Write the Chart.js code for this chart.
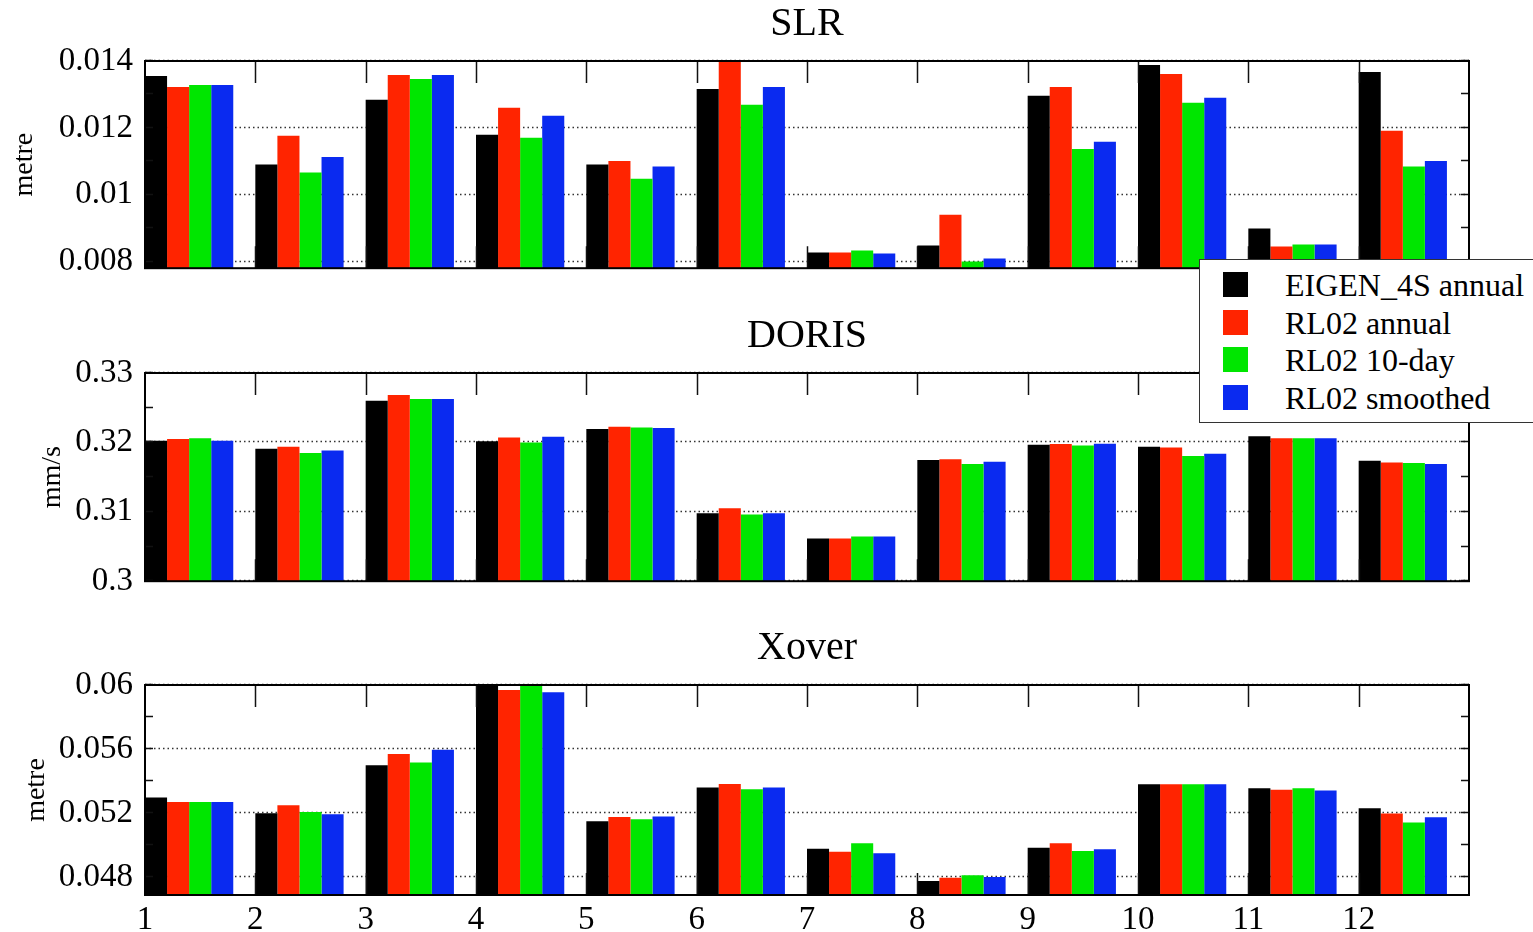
<!DOCTYPE html>
<html>
<head>
<meta charset="utf-8">
<script src="https://cdn.jsdelivr.net/npm/chart.js@4.4.1/dist/chart.umd.min.js"></script>
<style>
  body { margin: 0; background: #fff; overflow: hidden; width: 1533px; height: 932px; position: relative; }
  canvas { position: absolute; left: 0; }
  #legend { position: absolute; left: 1199px; top: 259px; width: 360px; height: 162px; border: 1.5px solid #333; background: #fff; z-index: 5; font-family: 'Liberation Serif', serif; font-size: 32px; color: #000; }
  .row { position: absolute; left: 0; height: 38px; line-height: 38px; white-space: nowrap; }
  .sw { position: absolute; left: 23px; top: 6px; width: 25px; height: 25px; }
  .lbl { position: absolute; left: 85px; top: 0; }
</style>
</head>
<body>
<canvas id="slr" width="1533" height="300" style="top:0px"></canvas>
<canvas id="doris" width="1533" height="301" style="top:312px"></canvas>
<canvas id="xover" width="1533" height="308" style="top:624px"></canvas>
<div id="legend"></div>
<script>
const months = [1, 2, 3, 4, 5, 6, 7, 8, 9, 10, 11, 12];
const seriesNames = ['EIGEN_4S annual', 'RL02 annual', 'RL02 10-day', 'RL02 smoothed'];
const seriesColors = ['#000000', '#ff2400', '#00e600', '#0a2af0'];

// SLR (metre)
const slrEigen    = [0.01355, 0.0109, 0.01284, 0.01179, 0.0109, 0.01316, 0.00827, 0.00848, 0.01296, 0.01388, 0.00899, 0.01367];
const slrAnnual   = [0.01322, 0.01176, 0.01358, 0.0126, 0.01101, 0.01398, 0.00827, 0.0094, 0.01322, 0.01361, 0.00845, 0.01191];
const slrTenDay   = [0.01328, 0.01066, 0.01346, 0.0117, 0.01048, 0.01269, 0.00833, 0.008, 0.01137, 0.01275, 0.00851, 0.01084];
const slrSmoothed = [0.01328, 0.01113, 0.01358, 0.01236, 0.01084, 0.01322, 0.00824, 0.00809, 0.01158, 0.0129, 0.00851, 0.01101];
const slrTicks = [0.008, 0.01, 0.012, 0.014];
const slrMinor = [0.009, 0.011, 0.013];

// DORIS (mm/s)
const dorisEigen    = [0.32024, 0.31909, 0.326, 0.32015, 0.32193, 0.30978, 0.30614, 0.31747, 0.31967, 0.31938, 0.32087, 0.31737];
const dorisAnnual   = [0.32049, 0.31938, 0.32682, 0.32072, 0.32226, 0.3105, 0.30614, 0.31756, 0.31977, 0.31928, 0.32058, 0.31712];
const dorisTenDay   = [0.32058, 0.31847, 0.32624, 0.32, 0.32216, 0.3096, 0.30643, 0.31689, 0.31957, 0.31804, 0.32058, 0.31703];
const dorisSmoothed = [0.32024, 0.31885, 0.32624, 0.32082, 0.32207, 0.30978, 0.30643, 0.31722, 0.31981, 0.31837, 0.32058, 0.31689];
const dorisTicks = [0.3, 0.31, 0.32, 0.33];
const dorisMinor = [0.305, 0.315, 0.325];

// Xover (metre)
const xoverEigen    = [0.05298, 0.052, 0.055, 0.05999, 0.0515, 0.0536, 0.04979, 0.04777, 0.04985, 0.05381, 0.05356, 0.05231];
const xoverAnnual   = [0.0527, 0.0525, 0.05569, 0.05969, 0.05177, 0.05383, 0.0496, 0.04798, 0.05013, 0.05381, 0.05346, 0.05198];
const xoverTenDay   = [0.0527, 0.05208, 0.05517, 0.05996, 0.05163, 0.0535, 0.05013, 0.04813, 0.04965, 0.05381, 0.05356, 0.05142];
const xoverSmoothed = [0.0527, 0.05194, 0.05596, 0.05954, 0.05179, 0.0536, 0.0495, 0.04802, 0.04975, 0.05381, 0.05342, 0.05175];
const xoverTicks = [0.048, 0.052, 0.056, 0.06];
const xoverMinor = [0.05, 0.054, 0.058];

Chart.defaults.font.family = "'Liberation Serif', serif";
Chart.defaults.color = '#000';

// dotted grid under the bars, box + inward ticks on top of them
const framePlugin = {
  id: 'frame',
  beforeDatasetsDraw(chart, args, opts) {
    const { ctx, chartArea: a, scales: { y } } = chart;
    ctx.save();
    ctx.strokeStyle = '#333';
    ctx.lineWidth = 1.5;
    ctx.setLineDash([1.5, 3]);
    opts.major.forEach(v => {
      const py = Math.round(y.getPixelForValue(v)) - 0.5;
      ctx.beginPath();
      ctx.moveTo(a.left, py);
      ctx.lineTo(a.right, py);
      ctx.stroke();
    });
    ctx.restore();
  },
  afterDatasetsDraw(chart, args, opts) {
    const { ctx, chartArea: a, scales: { x, y } } = chart;
    ctx.save();
    ctx.strokeStyle = '#111';
    ctx.lineWidth = 1.5;
    ctx.beginPath();
    months.forEach(m => {
      if (m === 1) return;
      const px = Math.round(x.getPixelForValue(m)) + 0.5;
      ctx.moveTo(px, a.top);
      ctx.lineTo(px, a.top + 22);
      ctx.moveTo(px, a.bottom);
      ctx.lineTo(px, a.bottom - 22);
    });
    opts.major.concat(opts.minor).forEach(v => {
      const py = Math.round(y.getPixelForValue(v)) - 0.5;
      ctx.moveTo(a.left, py);
      ctx.lineTo(a.left + 8, py);
      ctx.moveTo(a.right, py);
      ctx.lineTo(a.right - 8, py);
    });
    ctx.stroke();
    ctx.lineWidth = 2;
    ctx.strokeStyle = '#000';
    ctx.strokeRect(a.left, a.top, a.right - a.left, a.bottom - a.top);
    ctx.restore();
  }
};

function makePanel(id, title, unit, unitPad, yMin, yMax, ticks, minor, series, showX, xHeight) {
  const datasets = series.map((vals, s) => ({
    label: seriesNames[s],
    // group starts at the month tick and fills 80% of the month
    data: vals.map((v, i) => ({ x: months[i] + 0.4, y: v })),
    backgroundColor: seriesColors[s],
    borderWidth: 0,
    barPercentage: 1.0,
    categoryPercentage: 0.8
  }));
  return new Chart(document.getElementById(id), {
    type: 'bar',
    data: { datasets: datasets },
    plugins: [framePlugin],
    options: {
      responsive: false,
      animation: false,
      devicePixelRatio: 1,
      layout: { padding: { left: 0, right: 64, top: 0, bottom: 0 } },
      plugins: {
        legend: { display: false },
        tooltip: { enabled: false },
        title: {
          display: true,
          text: title,
          fullSize: false,
          color: '#000',
          font: { size: 40, weight: 'normal' },
          padding: { top: 0, bottom: 13 }
        },
        frame: { major: ticks, minor: minor }
      },
      scales: {
        x: {
          type: 'linear',
          min: 1,
          max: 13,
          offset: false,
          grid: { display: false, drawTicks: false, offset: false },
          border: { display: false },
          afterBuildTicks: sc => { sc.ticks = months.map(m => ({ value: m })); },
          afterFit: sc => { sc.height = xHeight; },
          ticks: {
            display: showX,
            padding: 6,
            maxRotation: 0,
            autoSkip: false,
            font: { size: 33 },
            callback: v => String(v)
          }
        },
        y: {
          min: yMin,
          max: yMax,
          beginAtZero: false,
          grid: { display: false, drawTicks: false },
          border: { display: false },
          afterBuildTicks: sc => { sc.ticks = ticks.map(v => ({ value: v })); },
          afterFit: sc => { sc.width = 145; },
          ticks: {
            padding: 12,
            font: { size: 33 },
            callback: v => String(+v.toFixed(6))
          },
          title: {
            display: true,
            text: unit,
            font: { size: 28 },
            padding: { top: unitPad, bottom: 0 }
          }
        }
      }
    }
  });
}

makePanel('slr', 'SLR', 'metre', 8, 0.0078, 0.014, slrTicks, slrMinor,
  [slrEigen, slrAnnual, slrTenDay, slrSmoothed], false, 31);
makePanel('doris', 'DORIS', 'mm/s', 36, 0.3, 0.33, dorisTicks, dorisMinor,
  [dorisEigen, dorisAnnual, dorisTenDay, dorisSmoothed], false, 31);
makePanel('xover', 'Xover', 'metre', 20, 0.0469, 0.06, xoverTicks, xoverMinor,
  [xoverEigen, xoverAnnual, xoverTenDay, xoverSmoothed], true, 37);

// legend box sitting over the right side, between SLR and DORIS
const legend = document.getElementById('legend');
seriesNames.forEach((name, i) => {
  const row = document.createElement('div');
  row.className = 'row';
  row.style.top = (6 + i * 37.7) + 'px';
  row.innerHTML = '<span class="sw" style="background:' + seriesColors[i] + '"></span><span class="lbl">' + name + '</span>';
  legend.appendChild(row);
});
</script>
</body>
</html>
